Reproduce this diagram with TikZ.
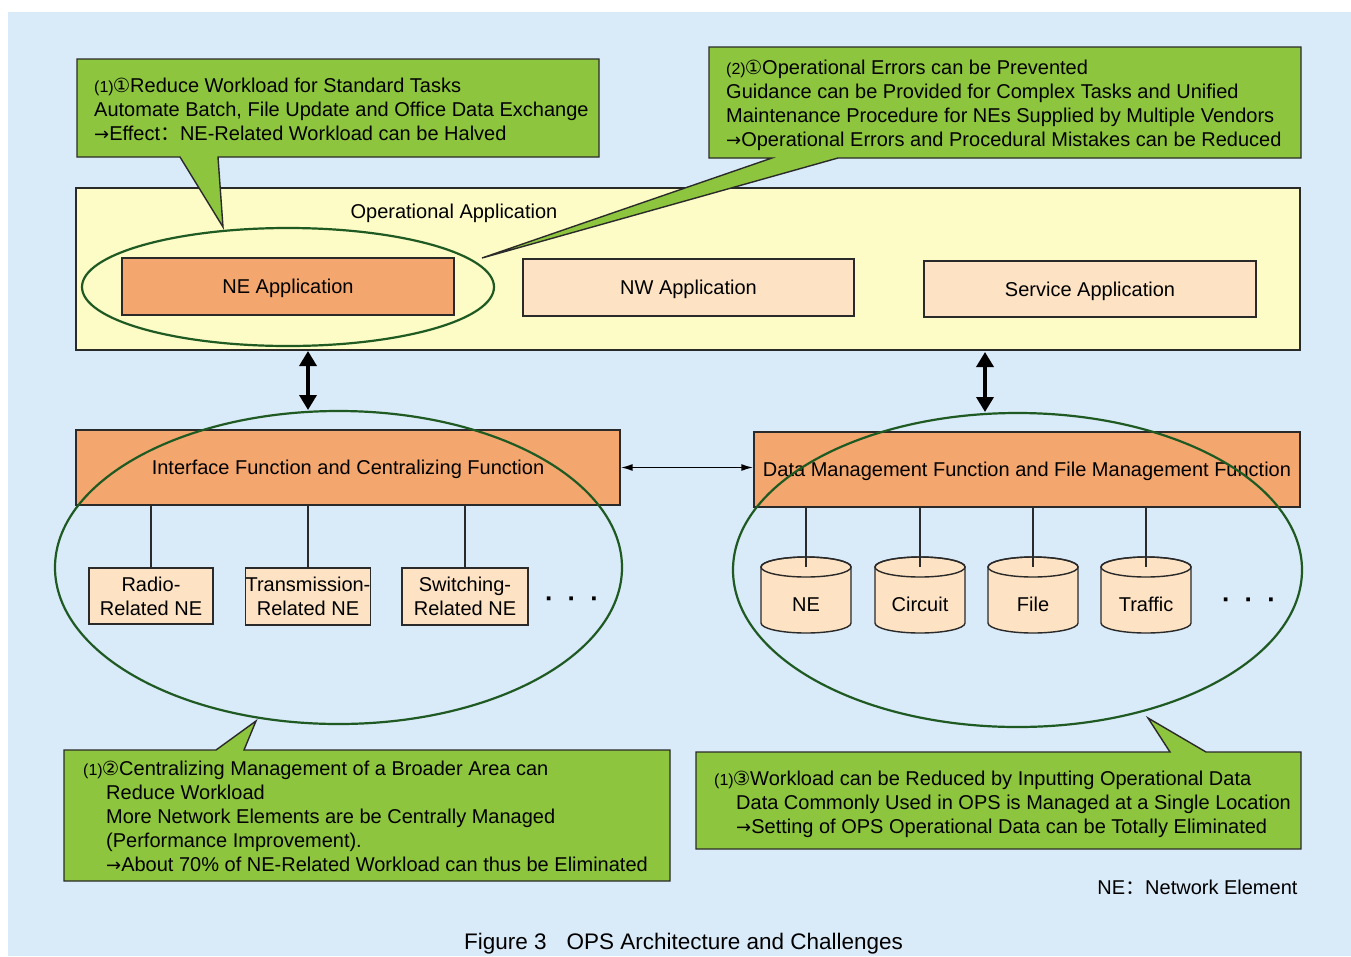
\documentclass[tikz,border=0pt]{standalone}
\usepackage{fontspec}
\setmainfont{Liberation Sans}
\newfontfamily\symfont{DejaVu Sans}
\newfontfamily\cjkfont{Noto Sans CJK SC}
\usetikzlibrary{shapes.geometric,arrows.meta}

\definecolor{bgblue}{HTML}{D9EAF8}
\definecolor{callgreen}{HTML}{8DC63E}
\definecolor{opyellow}{HTML}{FDFBC6}
\definecolor{orangeb}{HTML}{F4A66F}
\definecolor{peach}{HTML}{FDE3C3}
\definecolor{ringgreen}{HTML}{1F5A23}
\definecolor{edge}{HTML}{2A2A2A}

% small "(n)" followed by a circled digit
\newcommand\callno[2]{{\fontsize{16}{16}\selectfont(#1)\kern-1pt}{\symfont\fontsize{19.5}{19.5}\selectfont #2}}
\newcommand\arr{{\symfont\fontsize{18}{18}\selectfont →}}
\newcommand\fwcolon{{\cjkfont ：}}

\begin{document}
\begin{tikzpicture}[x=1pt,y=-1pt,
  lbl/.style={font=\fontsize{20}{24}\selectfont, text=black, align=center, text height=14.4pt, text depth=0pt},
  lbltwo/.style={lbl, text height=38.4pt, text depth=0pt},
  ctext/.style={font=\fontsize{20}{24}\selectfont, text=black, align=left, inner sep=0pt, anchor=north west},
  boxframe/.style={draw=edge, line width=1.4pt, inner sep=0pt},
  callout/.style={fill=callgreen, draw=edge, line width=1.4pt, line join=miter},
  ring/.style={ellipse, draw=ringgreen, line width=2.2pt, inner sep=0pt},
  bigarrow/.style={line width=3.5pt, draw=black, {Triangle[length=15pt,width=17pt]}-{Triangle[length=15pt,width=17pt]}},
  thinarrow/.style={line width=1.6pt, draw=black, {Latex[length=12pt,width=7pt]}-{Latex[length=12pt,width=7pt]}},
  wire/.style={draw=edge, line width=1.4pt},
  cylbody/.style={fill=peach, draw=edge, line width=1.4pt},
  ellipsis/.style={font=\fontsize{26}{26}\selectfont\bfseries, inner sep=0pt}
]
\useasboundingbox (0,0) rectangle (1351,956);
\fill[white] (0,0) rectangle (1351,956);
\fill[bgblue] (8,12) rectangle (1351,956);

% ---------- operational application layer ----------
\node[boxframe, fill=opyellow, minimum width=1224pt, minimum height=162pt] (opapp) at (688,269) {};
\node[lbl] (optitle) at (454,211) {Operational Application};
\node[boxframe, lbl, fill=orangeb, minimum width=332pt, minimum height=57pt] (neapp) at (288,286.5) {NE Application};
\node[boxframe, lbl, fill=peach, minimum width=331pt, minimum height=57pt] (nwapp) at (688.5,287.5) {NW Application};
\node[boxframe, lbl, fill=peach, minimum width=332pt, minimum height=56pt] (svapp) at (1090,289) {Service Application};
\node[ring, minimum width=412pt, minimum height=118pt] (nering) at (288,287) {};

% ---------- function layer ----------
\node[boxframe, lbl, fill=orangeb, minimum width=544pt, minimum height=75pt] (ifbox) at (348,467.5) {Interface Function and Centralizing Function};
\node[boxframe, lbl, fill=orangeb, minimum width=546pt, minimum height=75pt] (dmbox) at (1027,469.5) {Data Management Function and File Management Function};

% network elements
\node[boxframe, lbltwo, fill=peach, minimum width=124pt, minimum height=56pt] (radio) at (151,596) {Radio-\\Related NE};
\node[boxframe, lbltwo, fill=peach, minimum width=124pt, minimum height=57pt] (trans) at (308,596.5) {Transmission-\\Related NE};
\node[boxframe, lbltwo, fill=peach, minimum width=126pt, minimum height=57pt] (switch) at (465,596.5) {Switching-\\Related NE};
\node[ellipsis] (ldots) at (572,602) {·\hspace{14pt}·\hspace{14pt}·};

\foreach \n in {radio,trans,switch}
  \draw[wire] (\n.north |- ifbox.south) -- (\n.north);

% databases
\foreach \cx/\nm/\txt in {806/dbne/NE, 920/dbcirc/Circuit, 1033/dbfile/File, 1146/dbtraf/Traffic}{
  \filldraw[cylbody] (\cx-45,567) -- (\cx-45,623)
     arc[start angle=180, end angle=360, x radius=45pt, y radius=10pt]
     -- (\cx+45,567)
     arc[start angle=0, end angle=180, x radius=45pt, y radius=10pt] -- cycle;
  \draw[edge, line width=1.4pt] (\cx,567) ellipse[x radius=45pt, y radius=10pt];
  \coordinate (\nm top) at (\cx,567);
  \node[lbl] (\nm) at (\cx,604) {\txt};
  \draw[wire] (\nm top |- dmbox.south) -- (\nm top);
}
\node[ellipsis] (rdots) at (1249,603) {·\hspace{14pt}·\hspace{14pt}·};

% grouping rings
\node[ring, minimum width=567pt, minimum height=313pt] (lring) at (338.5,567.5) {};
\node[ring, minimum width=569pt, minimum height=314pt] (rring) at (1017.5,570) {};

% ---------- connectors ----------
\coordinate (lupper) at (308,351);
\coordinate (llower) at (308,410);
\coordinate (rupper) at (985,352);
\coordinate (rlower) at (985,412);
\draw[bigarrow] (lupper) -- (llower);
\draw[bigarrow] (rupper) -- (rlower);
\draw[thinarrow] (ifbox.east) -- (ifbox.east -| dmbox.west);

% ---------- callouts ----------
\filldraw[callout] (77,59) -- (599,59) -- (599,157) -- (218,157) -- (223,227) -- (180,157) -- (77,157) -- cycle;
\node[ctext] (c1) at (94,78) {\callno{1}{①}Reduce Workload for Standard Tasks\\Automate Batch, File Update and Office Data Exchange\\\arr Effect\fwcolon NE-Related Workload can be Halved};

\filldraw[callout] (709,47) -- (1301,47) -- (1301,158) -- (838,158) -- (482,258) -- (772,158) -- (709,158) -- cycle;
\node[ctext] (c2) at (726,60) {\callno{2}{①}Operational Errors can be Prevented\\Guidance can be Provided for Complex Tasks and Unified\\Maintenance Procedure for NEs Supplied by Multiple Vendors\\\arr Operational Errors and Procedural Mistakes can be Reduced};

\filldraw[callout] (64,750) -- (216,750) -- (256,721) -- (244,750) -- (670,750) -- (670,881) -- (64,881) -- cycle;
\node[ctext] (c3) at (83,761) {\callno{1}{②}Centralizing Management of a Broader Area can\\\hspace*{23pt}Reduce Workload\\\hspace*{23pt}More Network Elements are be Centrally Managed\\\hspace*{23pt}(Performance Improvement).\\\hspace*{23pt}\arr About 70\% of NE-Related Workload can thus be Eliminated};

\filldraw[callout] (696,752) -- (1170,752) -- (1148,718) -- (1206,752) -- (1301,752) -- (1301,849) -- (696,849) -- cycle;
\node[ctext] (c4) at (714,771) {\callno{1}{③}Workload can be Reduced by Inputting Operational Data\\\hspace*{22pt}Data Commonly Used in OPS is Managed at a Single Location\\\hspace*{22pt}\arr Setting of OPS Operational Data can be Totally Eliminated};

% ---------- legend and caption ----------
\node[lbl, anchor=east] (legend) at (1301,887) {NE\fwcolon Network Element};
\node[font=\fontsize{22.5}{26}\selectfont, text height=16pt, text depth=0pt] (caption) at (683.5,941) {Figure 3\hspace{20pt}OPS Architecture and Challenges};
\end{tikzpicture}
\end{document}
